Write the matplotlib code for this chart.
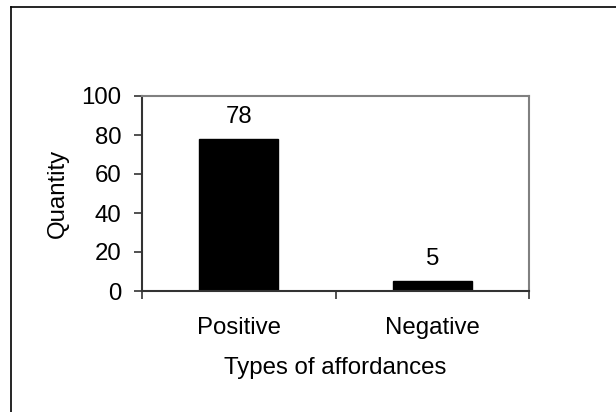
import matplotlib
matplotlib.use("Agg")
import matplotlib.pyplot as plt
from matplotlib.lines import Line2D

categories = ["Positive", "Negative"]
values = [78, 5]
yticks = [0, 20, 40, 60, 80, 100]

plt.rcParams['font.family'] = ['Liberation Sans', 'DejaVu Sans']
FS = 17.3

fig = plt.figure(figsize=(6.16, 4.12), dpi=100)
W, H = 616, 412
ax = fig.add_axes([142/W, 1 - 291/H, (529-142)/W, (291-96)/H])

x = list(range(len(categories)))
ax.bar(x, values, width=0.41, color='black', edgecolor='black')
ax.set_xlim(-0.5, len(categories) - 0.5)
ax.set_ylim(0, 100)
ax.set_yticks(yticks)
ax.set_yticklabels([str(t) for t in yticks], fontsize=FS)
ax.set_xticks(x)
ax.set_xticklabels(categories, fontsize=FS)
ax.tick_params(axis='x', length=0, pad=19)
ax.set_xticks([-0.5, 0.5, 1.5], minor=True)
ax.tick_params(axis='x', which='minor', length=6, direction='out', color='#333333', width=1.2)
ax.tick_params(axis='y', length=6, direction='out', color='#333333', width=1.2, pad=9)

for xi, v in zip(x, values):
    ax.text(xi, v + 8.3, str(v), ha='center', va='baseline', fontsize=FS)

ax.set_ylabel("Quantity", fontsize=FS, labelpad=9)
ax.set_xlabel("Types of affordances", fontsize=FS, labelpad=13)

ax.spines['left'].set_color('#333333')
ax.spines['bottom'].set_color('#333333')
ax.spines['top'].set_color('#808080')
ax.spines['right'].set_color('#808080')
for s in ax.spines.values():
    s.set_linewidth(1.5)

# partial outer frame (top and left edges only)
fig.add_artist(Line2D([11/W, 1], [1 - 7/H, 1 - 7/H], transform=fig.transFigure,
                      color='black', linewidth=1.2))
fig.add_artist(Line2D([11/W, 11/W], [0, 1 - 7/H], transform=fig.transFigure,
                      color='black', linewidth=1.2))

fig.savefig("out.png", dpi=100)
